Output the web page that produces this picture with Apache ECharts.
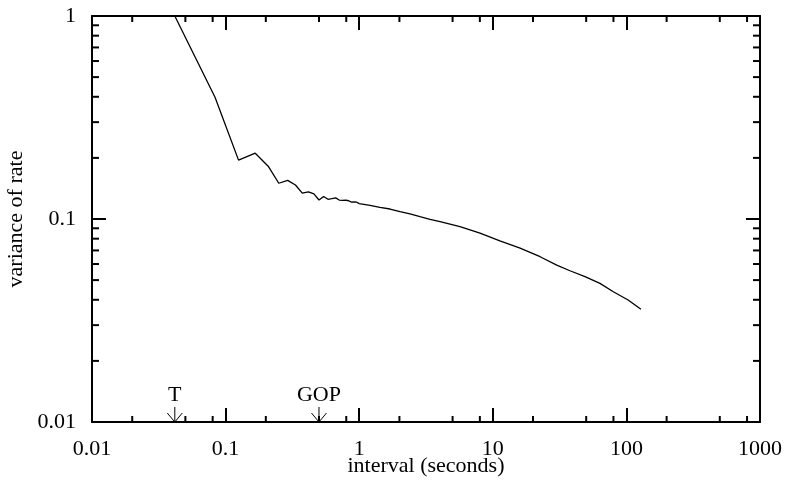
<!DOCTYPE html>
<html>
<head>
<meta charset="utf-8">
<script src="https://cdn.jsdelivr.net/npm/echarts@6/dist/echarts.min.js"></script>
<style>
  html, body { margin: 0; padding: 0; background: #fff; }
  #chart { width: 785px; height: 481px; }
</style>
</head>
<body>
<div id="chart"></div>
<script>
// interval (seconds) and variance of rate
const intervals = [
  1/24, 2/24, 3/24, 4/24, 5/24, 6/24, 7/24, 8/24, 9/24, 10/24, 11/24, 12/24,
  13/24, 14/24, 15/24, 16/24, 17/24, 18/24, 19/24, 20/24, 21/24, 22/24, 23/24, 1,
  1.205, 1.43, 1.70, 2.02, 2.40, 2.85, 3.39, 4.03, 5.68, 8.02, 11.3, 16.0, 22.6,
  30.1, 37.8, 49.0, 63.4, 79.8, 103, 128.5
];
const variances = [
  1.0, 0.398, 0.195, 0.211, 0.182, 0.150, 0.155, 0.147, 0.134, 0.136, 0.133, 0.124,
  0.129, 0.125, 0.126, 0.127, 0.124, 0.1235, 0.124, 0.123, 0.121, 0.1215, 0.121, 0.119,
  0.1168, 0.114, 0.112, 0.1086, 0.1059, 0.1026, 0.0997, 0.0970, 0.0917, 0.0851, 0.0780, 0.0718, 0.0652,
  0.0593, 0.0556, 0.0520, 0.0482, 0.0438, 0.0399, 0.0359
];

// minor tick values
const xMinor = [0.02, 0.05, 0.08, 0.2, 0.5, 0.8, 2, 5, 8, 20, 50, 80, 200, 500, 800];
const yMinor = [0.02, 0.03, 0.04, 0.05, 0.06, 0.07, 0.08, 0.09, 0.2, 0.3, 0.4, 0.5, 0.6, 0.7, 0.8, 0.9];

// marked intervals on the x axis
const markNames = ["T", "GOP"];
const markValues = [1 / 24, 0.5];

const X_MIN = 0.01, X_MAX = 1000, Y_MIN = 0.01, Y_MAX = 1;
const FONT = "Liberation Serif";
const FS = 22;
const chart = echarts.init(document.getElementById("chart"));

const axisBase = {
  axisLine: { show: true, lineStyle: { color: "#000", width: 2 } },
  axisTick: { show: true, inside: true, length: 14, lineStyle: { color: "#000", width: 2 } },
  splitLine: { show: false },
};

const fmt = (v) => String(Number(v.toPrecision(6)));

function lineEl(x1, y1, x2, y2, w) {
  return { type: "line", shape: { x1, y1, x2, y2 }, style: { stroke: "#000", lineWidth: w } };
}

const option = {
  animation: false,
  backgroundColor: "#fff",
  grid: { left: 92, right: 25, top: 16, bottom: 59, outerBoundsMode: "none", containLabel: false },
  xAxis: [
    {
      ...axisBase,
      type: "log", logBase: 10, min: X_MIN, max: X_MAX, position: "bottom",
      axisLabel: { color: "#000", fontFamily: FONT, fontSize: FS, margin: 16, formatter: fmt },
      name: "interval (seconds)", nameLocation: "middle", nameGap: 33, nameMoveOverlap: false,
      nameTextStyle: { color: "#000", fontFamily: FONT, fontSize: FS },
    },
    {
      ...axisBase,
      type: "log", logBase: 10, min: X_MIN, max: X_MAX, position: "top",
      axisLabel: { show: false },
    },
  ],
  yAxis: [
    {
      ...axisBase,
      type: "log", logBase: 10, min: Y_MIN, max: Y_MAX, position: "left",
      axisLabel: { color: "#000", fontFamily: FONT, fontSize: FS, margin: 16, formatter: fmt },
      name: "variance of rate", nameLocation: "middle", nameGap: 65, nameMoveOverlap: false,
      nameTextStyle: { color: "#000", fontFamily: FONT, fontSize: FS },
    },
    {
      ...axisBase,
      type: "log", logBase: 10, min: Y_MIN, max: Y_MAX, position: "right",
      axisLabel: { show: false },
    },
  ],
  series: [
    {
      type: "line",
      data: intervals.map((x, i) => [x, variances[i]]),
      symbol: "none",
      lineStyle: { color: "#000", width: 1.3 },
      z: 3,
    },
    {
      // minor ticks on bottom and top
      type: "custom",
      data: xMinor.map((v) => [v, Y_MIN]),
      clip: false,
      silent: true,
      renderItem(params, api) {
        const v = api.value(0);
        const b = api.coord([v, Y_MIN]);
        const t = api.coord([v, Y_MAX]);
        return {
          type: "group",
          children: [lineEl(b[0], b[1], b[0], b[1] - 6, 2), lineEl(t[0], t[1], t[0], t[1] + 6, 2)],
        };
      },
    },
    {
      // minor ticks on left and right
      type: "custom",
      data: yMinor.map((v) => [X_MIN, v]),
      clip: false,
      silent: true,
      renderItem(params, api) {
        const v = api.value(1);
        const l = api.coord([X_MIN, v]);
        const r = api.coord([X_MAX, v]);
        return {
          type: "group",
          children: [lineEl(l[0], l[1], l[0] + 7, l[1], 2), lineEl(r[0], r[1], r[0] - 7, r[1], 2)],
        };
      },
    },
    {
      // T and GOP arrows
      type: "custom",
      data: markValues.map((v, i) => [v, Y_MIN, markNames[i]]),
      clip: false,
      silent: true,
      renderItem(params, api) {
        const p = api.coord([api.value(0), Y_MIN]);
        return {
          type: "group",
          children: [
            lineEl(p[0], p[1] - 15, p[0], p[1], 1),
            lineEl(p[0] - 7.5, p[1] - 9, p[0], p[1], 1),
            lineEl(p[0] + 7.5, p[1] - 9, p[0], p[1], 1),
            {
              type: "text",
              style: {
                x: p[0], y: p[1] - 16, text: markNames[params.dataIndex],
                fill: "#000", font: FS + "px " + FONT, align: "center", verticalAlign: "bottom",
              },
            },
          ],
        };
      },
    },
  ],
};

chart.setOption(option);
</script>
</body>
</html>
